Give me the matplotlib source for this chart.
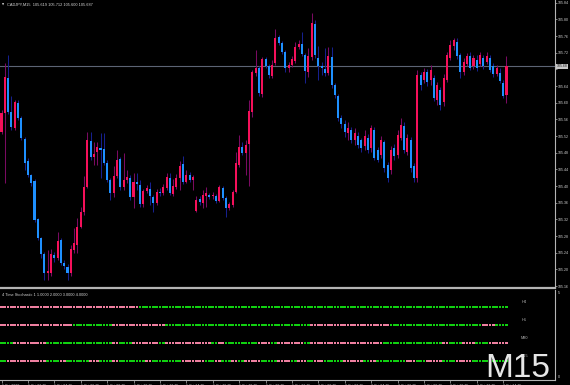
import matplotlib
matplotlib.use("Agg")
import matplotlib.pyplot as plt
import numpy as np

W, H = 570, 385

# CADJPY M15, una vela por cuarto de hora
opens = [105.530, 105.575, 105.659, 105.578, 105.539, 105.599, 105.563, 105.513, 105.460, 105.427,
         105.412, 105.321, 105.275, 105.237, 105.191, 105.191, 105.235, 105.227, 105.271, 105.215,
         105.206, 105.191, 105.247, 105.259, 105.302, 105.338, 105.398, 105.508, 105.470, 105.482,
         105.491, 105.489, 105.455, 105.414, 105.383, 105.424, 105.465, 105.398, 105.414, 105.419,
         105.374, 105.410, 105.403, 105.357, 105.388, 105.393, 105.374, 105.359, 105.386, 105.383,
         105.395, 105.419, 105.381, 105.398, 105.419, 105.453, 105.410, 105.427, 105.414, 105.340,
         105.369, 105.359, 105.376, 105.378, 105.376, 105.376, 105.364, 105.395, 105.371, 105.347,
         105.354, 105.386, 105.451, 105.494, 105.479, 105.501, 105.578, 105.671, 105.683, 105.621,
         105.705, 105.688, 105.664, 105.695, 105.758, 105.743, 105.722, 105.683, 105.691, 105.700,
         105.734, 105.741, 105.714, 105.674, 105.710, 105.789, 105.707, 105.688, 105.681, 105.671,
         105.710, 105.642, 105.616, 105.563, 105.549, 105.527, 105.535, 105.511, 105.520, 105.511,
         105.496, 105.515, 105.491, 105.535, 105.487, 105.475, 105.506, 105.451, 105.439, 105.491,
         105.475, 105.515, 105.544, 105.482, 105.511, 105.448, 105.419, 105.666, 105.654, 105.674,
         105.654, 105.659, 105.607, 105.630, 105.602, 105.654, 105.707, 105.736, 105.746, 105.714,
         105.674, 105.693, 105.712, 105.688, 105.702, 105.693, 105.707, 105.698, 105.707, 105.688,
         105.669, 105.671, 105.647, 105.619]
highs = [105.582, 105.695, 105.715, 105.616, 105.607, 105.607, 105.568, 105.518, 105.467, 105.430,
         105.417, 105.324, 105.278, 105.242, 105.247, 105.249, 105.242, 105.290, 105.275, 105.223,
         105.213, 105.259, 105.299, 105.323, 105.350, 105.424, 105.530, 105.530, 105.506, 105.506,
         105.527, 105.527, 105.462, 105.419, 105.448, 105.487, 105.470, 105.479, 105.439, 105.427,
         105.431, 105.431, 105.414, 105.393, 105.403, 105.410, 105.379, 105.393, 105.395, 105.405,
         105.431, 105.431, 105.417, 105.429, 105.460, 105.472, 105.439, 105.434, 105.427, 105.376,
         105.376, 105.390, 105.398, 105.383, 105.386, 105.381, 105.403, 105.400, 105.376, 105.362,
         105.390, 105.482, 105.523, 105.506, 105.511, 105.607, 105.678, 105.726, 105.688, 105.710,
         105.710, 105.693, 105.702, 105.777, 105.763, 105.748, 105.726, 105.698, 105.712, 105.746,
         105.750, 105.770, 105.719, 105.731, 105.815, 105.798, 105.736, 105.698, 105.731, 105.734,
         105.734, 105.647, 105.621, 105.571, 105.559, 105.554, 105.542, 105.539, 105.530, 105.515,
         105.535, 105.525, 105.546, 105.542, 105.494, 105.520, 105.511, 105.458, 105.496, 105.501,
         105.535, 105.563, 105.554, 105.525, 105.518, 105.455, 105.678, 105.674, 105.683, 105.681,
         105.691, 105.666, 105.650, 105.638, 105.669, 105.722, 105.750, 105.755, 105.755, 105.719,
         105.707, 105.719, 105.722, 105.714, 105.714, 105.722, 105.714, 105.722, 105.714, 105.695,
         105.691, 105.683, 105.654, 105.712]
lows = [105.525, 105.407, 105.573, 105.535, 105.535, 105.559, 105.511, 105.439, 105.422, 105.400,
        105.314, 105.271, 105.227, 105.175, 105.175, 105.184, 105.218, 105.223, 105.211, 105.201,
        105.175, 105.184, 105.239, 105.239, 105.299, 105.331, 105.395, 105.463, 105.451, 105.451,
        105.419, 105.451, 105.410, 105.366, 105.374, 105.419, 105.390, 105.390, 105.407, 105.366,
        105.347, 105.390, 105.350, 105.350, 105.383, 105.354, 105.338, 105.354, 105.376, 105.379,
        105.390, 105.379, 105.376, 105.393, 105.390, 105.405, 105.407, 105.410, 105.390, 105.338,
        105.354, 105.347, 105.350, 105.369, 105.369, 105.359, 105.362, 105.366, 105.326, 105.342,
        105.350, 105.383, 105.446, 105.474, 105.427, 105.400, 105.566, 105.664, 105.616, 105.614,
        105.683, 105.659, 105.659, 105.691, 105.739, 105.717, 105.674, 105.674, 105.686, 105.695,
        105.729, 105.712, 105.647, 105.662, 105.702, 105.707, 105.654, 105.666, 105.664, 105.666,
        105.635, 105.611, 105.556, 105.539, 105.518, 105.511, 105.503, 105.499, 105.491, 105.482,
        105.487, 105.479, 105.482, 105.462, 105.458, 105.467, 105.434, 105.410, 105.429, 105.462,
        105.467, 105.511, 105.479, 105.474, 105.434, 105.410, 105.410, 105.630, 105.647, 105.640,
        105.642, 105.604, 105.595, 105.582, 105.592, 105.650, 105.702, 105.726, 105.705, 105.659,
        105.666, 105.688, 105.678, 105.681, 105.676, 105.688, 105.681, 105.693, 105.674, 105.662,
        105.664, 105.647, 105.611, 105.600]
closes = [105.575, 105.662, 105.578, 105.542, 105.602, 105.563, 105.515, 105.455, 105.427, 105.407,
          105.319, 105.275, 105.237, 105.191, 105.196, 105.237, 105.227, 105.268, 105.215, 105.208,
          105.191, 105.249, 105.263, 105.302, 105.338, 105.398, 105.511, 105.470, 105.477, 105.494,
          105.487, 105.455, 105.414, 105.383, 105.424, 105.462, 105.398, 105.414, 105.422, 105.374,
          105.410, 105.405, 105.357, 105.388, 105.395, 105.376, 105.359, 105.386, 105.383, 105.398,
          105.422, 105.383, 105.400, 105.419, 105.448, 105.410, 105.427, 105.414, 105.422, 105.366,
          105.362, 105.378, 105.383, 105.374, 105.378, 105.364, 105.398, 105.371, 105.347, 105.357,
          105.386, 105.455, 105.494, 105.479, 105.499, 105.580, 105.674, 105.683, 105.623, 105.705,
          105.688, 105.666, 105.691, 105.755, 105.743, 105.722, 105.683, 105.691, 105.705, 105.734,
          105.741, 105.717, 105.676, 105.712, 105.791, 105.714, 105.688, 105.683, 105.671, 105.712,
          105.642, 105.618, 105.563, 105.549, 105.530, 105.539, 105.511, 105.527, 105.499, 105.491,
          105.520, 105.487, 105.539, 105.467, 105.462, 105.511, 105.443, 105.419, 105.487, 105.472,
          105.523, 105.547, 105.487, 105.515, 105.443, 105.419, 105.666, 105.642, 105.674, 105.650,
          105.678, 105.611, 105.642, 105.595, 105.659, 105.714, 105.738, 105.750, 105.712, 105.674,
          105.698, 105.712, 105.683, 105.707, 105.683, 105.714, 105.688, 105.712, 105.678, 105.669,
          105.683, 105.652, 105.616, 105.687]

price_ticks = [105.16, 105.20, 105.24, 105.28, 105.32, 105.36, 105.40, 105.44, 105.48,
               105.52, 105.56, 105.60, 105.64, 105.68, 105.72, 105.76, 105.80, 105.84]
last_price = 105.687

time_labels = ["1 Oct 2020", "1 Oct 02:15", "1 Oct 04:15", "1 Oct 06:15", "1 Oct 08:15",
               "1 Oct 10:15", "1 Oct 12:15", "1 Oct 14:15", "1 Oct 16:15", "1 Oct 18:15",
               "1 Oct 20:15", "1 Oct 22:15", "2 Oct 00:15", "2 Oct 02:15", "2 Oct 04:15",
               "2 Oct 06:15", "2 Oct 08:15", "2 Oct 10:15", "2 Oct 12:15", "2 Oct 14:15"]

# estado del estocástico por marco temporal: (color, nº de velas)
tf_names = ["H4", "H1", "M30", "M15"]
h4_runs = [("p", 42), ("g", 112)]
h1_runs = [("p", 22), ("g", 12), ("p", 16), ("g", 44), ("p", 24), ("g", 28), ("p", 4), ("g", 4)]
m30_runs = [("g", 4), ("p", 10), ("g", 20), ("p", 2), ("g", 4), ("p", 8), ("g", 2), ("p", 14),
            ("g", 2), ("p", 2), ("g", 10), ("p", 4), ("g", 2), ("p", 8), ("g", 2), ("p", 22),
            ("g", 18), ("p", 2), ("g", 4), ("p", 4), ("g", 4), ("p", 6)]
m15_runs = [("g", 2), ("p", 12), ("g", 4), ("p", 2), ("g", 7), ("p", 3), ("g", 4), ("p", 2),
            ("g", 8), ("p", 2), ("g", 9), ("p", 7), ("g", 3), ("p", 2), ("g", 3), ("p", 2),
            ("g", 2), ("p", 5), ("g", 5), ("p", 4), ("g", 2), ("p", 3), ("g", 2), ("p", 3),
            ("g", 6), ("p", 6), ("g", 2), ("p", 2), ("g", 9), ("p", 3), ("g", 3), ("p", 5),
            ("g", 4), ("p", 5), ("g", 11)]

UP_BODY, UP_WICK = "#f5105a", "#7a0a62"
DN_BODY, DN_WICK = "#1e90ff", "#16208e"
DOT = {"p": "#ee7fa0", "g": "#10d010"}
FRAME = "#b4b4b4"
TXT = "#d8d8d8"
SMALL = ["Liberation Sans", "DejaVu Sans"]

plt.rcParams.update({"font.family": SMALL, "font.size": 3})


def fx(x):
    return x / W


def fy(y):
    return 1 - y / H


def main():
    o = np.array(opens)
    h = np.array(highs)
    lo = np.array(lows)
    c = np.array(closes)
    idx = np.arange(len(o))
    up = c >= o

    fig = plt.figure(figsize=(W / 100, H / 100), dpi=100, facecolor="black")
    ax = fig.add_axes([0, fy(288), fx(555), 288 / H], facecolor="black")
    ax2 = fig.add_axes([0, fy(380), fx(555), 90 / H], facecolor="black")
    xlim = (-0.455, 167.7)

    # velas
    ax.vlines(idx[up], lo[up], h[up], color=UP_WICK, lw=0.75, zorder=2)
    ax.vlines(idx[~up], lo[~up], h[~up], color=DN_WICK, lw=0.75, zorder=2)
    ax.bar(idx, np.maximum(np.abs(c - o), 0.0025), bottom=np.minimum(o, c), width=0.62,
           color=[UP_BODY if u else DN_BODY for u in up], linewidth=0, zorder=3)
    ax.axhline(last_price, color="#5c6474", lw=0.8, zorder=1)
    ax.set_xlim(*xlim)
    ax.set_ylim(105.1553, 105.8465)
    ax.set_xticks([])
    ax.yaxis.tick_right()
    ax.set_yticks(price_ticks)
    ax.set_yticklabels(["" if abs(t - 105.68) < 1e-6 else f"{t:.2f}" for t in price_ticks])
    ax.tick_params(axis="y", colors=FRAME, labelcolor=TXT, labelsize=2.5,
                   length=1.5, width=0.5, pad=0.6)
    ax.text(1.003, last_price, "105.68", transform=ax.get_yaxis_transform(), ha="left",
            va="center", fontsize=2.5, color="#202020", clip_on=False, zorder=5,
            bbox=dict(boxstyle="square,pad=0.2", fc="#c8c8c8", ec="none"))
    for s in ("top", "left"):
        ax.spines[s].set_visible(False)
    ax.spines["right"].set_color(FRAME)
    ax.spines["right"].set_linewidth(0.8)
    ax.spines["bottom"].set_color(FRAME)
    ax.spines["bottom"].set_linewidth(1.6)

    # subventana del estocástico
    for level, runs in zip([4, 3, 2, 1], [h4_runs, h1_runs, m30_runs, m15_runs]):
        cols = np.repeat([DOT[k] for k, _ in runs], [n for _, n in runs])
        ax2.scatter(idx, np.full(len(idx), level), c=cols, marker="s", s=3.6,
                    linewidths=0, zorder=2)
    ax2.set_xlim(*xlim)
    ax2.set_ylim(-0.056, 4.944)
    ax2.set_yticks([])
    ax2.set_xticks(np.arange(0, len(idx), 8))
    ax2.set_xticklabels(time_labels, ha="left")
    ax2.tick_params(axis="x", colors=FRAME, labelcolor=TXT, labelsize=2.5,
                    length=2.5, width=0.5, pad=0.5)
    for s in ("top", "left"):
        ax2.spines[s].set_visible(False)
    ax2.spines["right"].set_color(FRAME)
    ax2.spines["right"].set_linewidth(0.8)
    ax2.spines["bottom"].set_color(FRAME)
    ax2.spines["bottom"].set_linewidth(0.8)

    # textos
    fig.text(fx(2), fy(4.5), "\u25bc", fontsize=2, color=TXT, va="center",
             family=["DejaVu Sans"])
    fig.text(fx(7), fy(4.5), "CADJPY,M15  105.619 105.712 105.600 105.687",
             fontsize=2.8, color=TXT, va="center")
    fig.text(fx(2), fy(295), "4 Time Stochastic 1 1.0000 2.0000 3.0000 4.0000",
             fontsize=2.8, color=TXT, va="center")
    for name, y in zip(tf_names, [302, 320, 338, 356]):
        fig.text(fx(524), fy(y), name, fontsize=2.8, color="#b8b8b8", ha="center",
                 va="center", zorder=1)
    fig.text(fx(558), fy(293), "5", fontsize=2.6, color=TXT, va="center")
    fig.text(fx(558), fy(377), "0", fontsize=2.6, color=TXT, va="center")
    fig.text(fx(485), fy(377), "M15", fontsize=24, color="#e6e6e6", ha="left",
             va="baseline", zorder=10,
             bbox=dict(boxstyle="square,pad=0", fc="none", ec="none"))

    fig.savefig("out.png", dpi=100, facecolor="black")
    plt.close(fig)


if __name__ == "__main__":
    main()
